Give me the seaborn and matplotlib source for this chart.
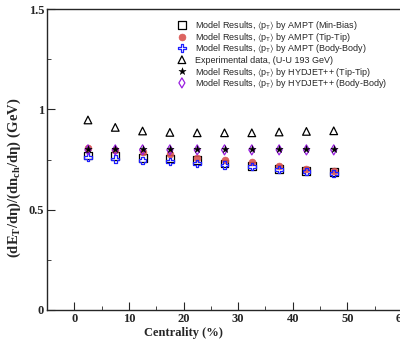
import matplotlib
matplotlib.use("Agg")
import matplotlib.pyplot as plt
import seaborn as sns
import pandas as pd

# centrality bin centres (%)
centrality = [2.5, 7.5, 12.5, 17.5, 22.5, 27.5, 32.5, 37.5, 42.5, 47.5]

ampt_minbias = [0.770, 0.768, 0.758, 0.755, 0.747, 0.730, 0.718, 0.702, 0.693, 0.686]
ampt_tiptip = [0.805, 0.795, 0.788, 0.776, 0.756, 0.746, 0.736, 0.720, 0.705, 0.694]
ampt_bodybody = [0.761, 0.752, 0.745, 0.740, 0.730, 0.723, 0.715, 0.700, 0.690, 0.680]
experiment = [0.947, 0.910, 0.892, 0.885, 0.883, 0.883, 0.883, 0.887, 0.890, 0.893]
hydjet_tiptip = [0.800, 0.800, 0.800, 0.800, 0.800, 0.800, 0.800, 0.800, 0.800, 0.800]
hydjet_bodybody = [0.798, 0.798, 0.798, 0.798, 0.798, 0.798, 0.798, 0.798, 0.798, 0.798]

labels = [
    r"Model Results, $\langle\mathrm{p}_{\mathrm{T}}\rangle$ by AMPT (Min-Bias)",
    r"Model Results, $\langle\mathrm{p}_{\mathrm{T}}\rangle$ by AMPT (Tip-Tip)",
    r"Model Results, $\langle\mathrm{p}_{\mathrm{T}}\rangle$ by AMPT (Body-Body)",
    "Experimental data, (U-U 193 GeV)",
    r"Model Results, $\langle\mathrm{p}_{\mathrm{T}}\rangle$ by HYDJET++ (Tip-Tip)",
    r"Model Results, $\langle\mathrm{p}_{\mathrm{T}}\rangle$ by HYDJET++ (Body-Body)",
]

sns.set_style("ticks")
plt.rcParams["font.family"] = ["Liberation Serif", "DejaVu Serif"]
plt.rcParams["mathtext.fontset"] = "custom"
plt.rcParams["mathtext.rm"] = "Liberation Sans"
plt.rcParams["mathtext.it"] = "Liberation Sans:italic"
plt.rcParams["mathtext.bf"] = "Liberation Serif:bold"
plt.rcParams["mathtext.fallback"] = "stixsans"

df = pd.DataFrame({
    "c": centrality,
    "minbias": ampt_minbias,
    "tiptip": ampt_tiptip,
    "bodybody": ampt_bodybody,
    "exp": experiment,
    "hy_tt": hydjet_tiptip,
    "hy_bb": hydjet_bodybody,
})

# marker styles, in legend order
styles = [
    dict(marker="s", s=32, facecolors="none", edgecolors="black", linewidths=0.9),
    dict(marker="o", s=24, facecolors="#d9534f", edgecolors="#d9534f", linewidths=0.5, alpha=0.9),
    dict(marker="P", s=30, facecolors="none", edgecolors="#1f1fff", linewidths=0.9),
    dict(marker="^", s=30, facecolors="none", edgecolors="black", linewidths=0.9),
    dict(marker="*", s=30, facecolors="black", edgecolors="black", linewidths=0.3),
    dict(marker="d", s=26, facecolors="none", edgecolors="#9a1fe0", linewidths=0.9),
]
cols = ["minbias", "tiptip", "bodybody", "exp", "hy_tt", "hy_bb"]
zorders = [3, 4, 5, 3, 7, 6]

fig = plt.figure(figsize=(4.0, 3.43), dpi=100)
ax = fig.add_axes([47 / 400, 33 / 343, 355 / 400, 301 / 343])
ax.set_xlim(-5, 60)
ax.set_ylim(0, 1.5)

for col, st, z in zip(cols, styles, zorders):
    ax.scatter(df.c, df[col], zorder=z, **st)

# hand-made legend (equal row pitch)
for i, (lab, st) in enumerate(zip(labels, styles)):
    yc = 0.947 - i * 0.0385
    ax.scatter([0.380], [yc], transform=ax.transAxes, clip_on=False, **st)
    ax.text(0.417, yc - 0.011, lab, transform=ax.transAxes, va="baseline", ha="left",
            fontsize=6.5, family="Liberation Sans")

sns.despine(ax=ax, top=False, right=False)
ax.set_xlim(-5, 60)
ax.set_ylim(0, 1.5)
ax.set_xticks([0, 10, 20, 30, 40, 50, 60])
ax.set_xticks([5, 15, 25, 35, 45, 55], minor=True)
ax.set_yticks([0, 0.5, 1, 1.5])
ax.set_yticklabels(["0", "0.5", "1", "1.5"])
ax.set_yticks([0.25, 0.75, 1.25], minor=True)
ax.tick_params(which="major", direction="in", length=6, width=0.8, labelsize=9, pad=2)
ax.tick_params(which="minor", direction="in", length=3, width=0.6)
for t in ax.get_xticklabels() + ax.get_yticklabels():
    t.set_fontweight("bold")
for s in ax.spines.values():
    s.set_linewidth(1.0)

ax.set_xlabel("Centrality (%)", fontsize=9, fontweight="bold")
ax.xaxis.set_label_coords(0.383, -0.058)
ax.set_ylabel(r"$\mathbf{(dE_{T}/d\eta)/(dn_{ch}/d\eta)\ (GeV)}$", fontsize=10.5)
ax.yaxis.set_label_coords(-0.068, 0.44)

fig.savefig("out.png", dpi=100)
